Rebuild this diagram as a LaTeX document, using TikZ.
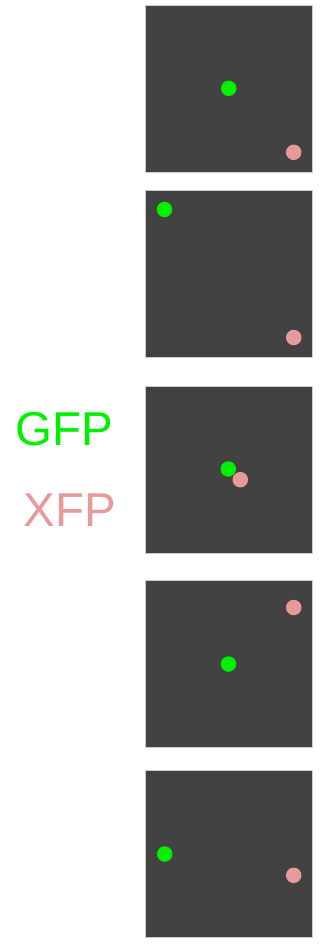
\documentclass[tikz,border=0pt]{standalone}
\usepackage{fontspec}
\setmainfont{Liberation Sans}
\definecolor{paneldark}{RGB}{66,66,66}
\definecolor{gfpgreen}{RGB}{0,240,0}
\definecolor{xfppink}{RGB}{232,154,154}
\begin{document}
\begin{tikzpicture}[x=1pt,y=-1pt,
  panel/.style={fill=paneldark,draw=black!20,line width=0.5pt,minimum width=167pt,minimum height=167pt,inner sep=0pt,anchor=north west},
  gdot/.style={circle,fill=gfpgreen,minimum size=15.5pt,inner sep=0pt},
  xdot/.style={circle,fill=xfppink,minimum size=15.5pt,inner sep=0pt},
  lbl/.style={font=\fontsize{47.5}{47.5}\selectfont,inner sep=0pt,anchor=base west}]
\useasboundingbox (0,0) rectangle (320,944);
\fill[white] (0,0) rectangle (320,944);
% five frames
\node[panel] (p1) at (145,5) {};
\node[panel] (p2) at (145,190) {};
\node[panel] (p3) at (145,385.5) {};
\node[panel] (p4) at (145,580) {};
\node[panel] (p5) at (145,770) {};
% fluorophore positions
\node[gdot] (g1) at (228.7,88.3) {};
\node[xdot] (x1) at (293.7,152.3) {};
\node[gdot] (g2) at (164.5,209.5) {};
\node[xdot] (x2) at (293.7,337.5) {};
\node[gdot] (g3) at (228.3,469) {};
\node[xdot] (x3) at (240.3,479.7) {};
\node[xdot] (x4) at (293.7,607.5) {};
\node[gdot] (g4) at (228.5,664) {};
\node[gdot] (g5) at (164.7,854) {};
\node[xdot] (x5) at (293.7,875.3) {};
% legend
\node[lbl,text=gfpgreen] (gfp) at (15.5,445.7) {GFP};
\node[lbl,text=xfppink] (xfp) at (23.5,526) {XFP};
\end{tikzpicture}
\end{document}
